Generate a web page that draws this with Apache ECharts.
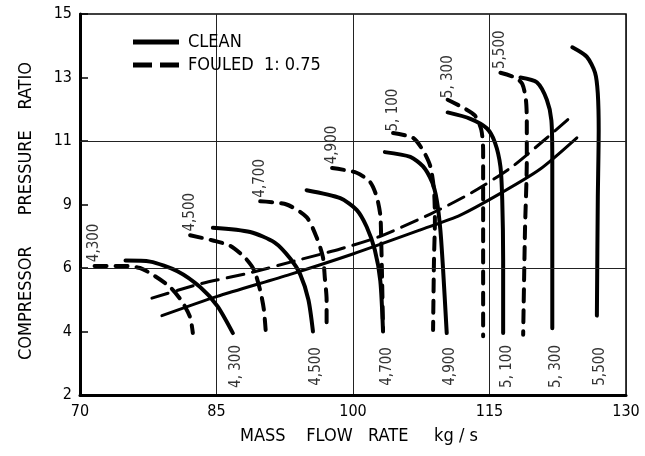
<!DOCTYPE html>
<html>
<head>
<meta charset="utf-8">
<script src="https://cdn.jsdelivr.net/npm/echarts@6/dist/echarts.min.js"></script>
<style>
  html, body { margin: 0; padding: 0; background: #fff; }
  #chart { width: 645px; height: 456px; }
</style>
</head>
<body>
<div id="chart"></div>
<script>
// pressure ratio labels, evenly spaced on the original figure
const yTicks = [2, 4, 6, 9, 11, 13, 15];
const yGridAt = [6, 11];

const cleanNames = ['4, 300', '4,500', '4,700', '4,900', '5, 100', '5, 300', '5,500'];
const fouledNames = ['4,300', '4,500', '4,700', '4,900', '5, 100', '5, 300', '5,500'];

// [mass flow kg/s, pressure ratio]
const clean4300 = [[75.0, 6.35], [77.7, 6.3], [80.7, 5.9], [83.2, 5.4], [85.1, 4.8], [86.8, 3.95]];
const clean4500 = [[84.6, 7.9], [88.7, 7.7], [91.4, 7.2], [93.1, 6.45], [94.2, 5.8], [95.1, 5.0], [95.6, 4.0]];
const clean4700 = [[94.9, 9.45], [98.6, 9.2], [100.4, 8.75], [101.5, 7.95], [102.4, 6.85], [103.0, 5.6], [103.3, 4.0]];
const clean4900 = [[103.5, 10.65], [106.3, 10.5], [107.7, 10.2], [108.7, 9.7], [109.2, 9.15], [109.6, 7.8], [109.9, 5.95], [110.3, 3.95]];
const clean5100 = [[110.4, 11.9], [112.9, 11.7], [114.7, 11.4], [115.6, 10.95], [116.2, 10.2], [116.4, 9.15], [116.5, 6.4], [116.5, 3.95]];
const clean5300 = [[118.4, 13.0], [120.2, 12.85], [121.3, 12.3], [121.8, 11.65], [121.9, 10.4], [121.9, 7.8], [121.9, 4.1]];
const clean5500 = [[124.1, 13.95], [125.7, 13.65], [126.6, 13.15], [126.9, 12.5], [127.0, 11.35], [126.9, 9.15], [126.8, 4.5]];

const fouled4300 = [[71.6, 6.1], [74.7, 6.1], [76.6, 6.0], [78.2, 5.75], [79.9, 5.4], [81.2, 4.95], [82.1, 4.45], [82.4, 3.95]];
const fouled4500 = [[82.1, 7.55], [84.6, 7.3], [86.5, 7.05], [88.1, 6.5], [89.1, 5.95], [89.8, 5.3], [90.2, 4.7], [90.4, 4.05]];
const fouled4700 = [[89.8, 9.1], [92.7, 9.0], [94.9, 8.4], [96.0, 7.45], [96.7, 6.5], [96.9, 5.7], [97.1, 5.0], [97.1, 4.25]];
const fouled4900 = [[97.7, 10.15], [100.4, 10.0], [101.9, 9.7], [102.6, 9.25], [103.0, 8.5], [103.1, 7.3], [103.2, 5.6], [103.3, 4.05]];
const fouled5100 = [[104.4, 11.25], [106.6, 11.1], [107.7, 10.7], [108.5, 10.2], [108.9, 9.45], [109.0, 8.25], [108.9, 6.4], [108.8, 4.05]];
const fouled5300 = [[110.4, 12.3], [112.1, 12.05], [113.4, 11.8], [114.1, 11.35], [114.3, 10.7], [114.3, 9.15], [114.3, 3.85]];
const fouled5500 = [[116.2, 13.15], [117.8, 13.0], [118.6, 12.8], [119.0, 12.3], [119.1, 11.65], [119.1, 10.4], [118.9, 7.8], [118.7, 3.9]];

// surge lines
const cleanSurge = [[79.0, 4.5], [85.0, 5.1], [93.1, 5.8], [99.9, 6.65], [107.4, 7.8], [111.8, 8.5], [116.2, 9.35], [120.5, 10.1], [124.6, 11.1]];
const fouledSurge = [[77.9, 5.05], [83.2, 5.5], [88.7, 5.85], [94.2, 6.4], [98.6, 6.9], [103.0, 7.5], [108.5, 8.55], [112.9, 9.35], [117.3, 10.15], [120.9, 11.0], [124.1, 11.8]];

const cleanLines = [clean4300, clean4500, clean4700, clean4900, clean5100, clean5300, clean5500];
const fouledLines = [fouled4300, fouled4500, fouled4700, fouled4900, fouled5100, fouled5300, fouled5500];

const CLEAN = 'CLEAN';
const FOULED = 'FOULED  1: 0.75';
const FONT = '"DejaVu Sans Condensed", "DejaVu Sans", sans-serif';

// the y axis is drawn by tick index, values are mapped piecewise between the labels
function yPos(pr) {
  for (let i = 0; i < yTicks.length - 2; i++) {
    if (pr <= yTicks[i + 1]) return i + (pr - yTicks[i]) / (yTicks[i + 1] - yTicks[i]);
  }
  const n = yTicks.length - 2;
  return n + (pr - yTicks[n]) / (yTicks[n + 1] - yTicks[n]);
}
const toAxis = pts => pts.map(p => [p[0], yPos(p[1])]);

const dashSpeed = [12, 9];
const dashSurge = [17, 9];

function lineSeries(name, pts, width, type) {
  return {
    name: name,
    type: 'line',
    data: toAxis(pts),
    smooth: 0.25,
    showSymbol: false,
    symbol: 'none',
    silent: true,
    lineStyle: { color: '#000', width: width, type: type, cap: 'round', join: 'round' },
    itemStyle: { color: '#000' },
    emphasis: { disabled: true },
    z: 3
  };
}

let series = [];
cleanLines.forEach(l => series.push(lineSeries(CLEAN, l, 4, 'solid')));
fouledLines.forEach(l => series.push(lineSeries(FOULED, l, 4, dashSpeed)));
series.push(lineSeries(CLEAN, cleanSurge, 3, 'solid'));
series.push(lineSeries(FOULED, fouledSurge, 3, dashSurge));

// horizontal grid lines at 6 and 11 only
series[0].markLine = {
  silent: true,
  symbol: 'none',
  label: { show: false },
  lineStyle: { color: '#222', width: 1, type: 'solid' },
  data: yGridAt.map(v => ({ yAxis: yPos(v) }))
};

const labelStyle = {
  show: true,
  position: 'inside',
  rotate: 90,
  align: 'center',
  verticalAlign: 'middle',
  color: '#000',
  fontSize: 15,
  fontFamily: FONT
};

// clean speed labels below the line ends
series.push({
  type: 'scatter',
  silent: true,
  symbolSize: 1,
  itemStyle: { color: 'rgba(0,0,0,0)' },
  data: cleanLines.map((l, i) => ({
    value: [l[l.length - 1][0] + 0.4, yPos(2.9)],
    label: Object.assign({}, labelStyle, { formatter: cleanNames[i] })
  }))
});
// fouled speed labels above the line starts (offset is in the rotated frame)
series.push({
  type: 'scatter',
  silent: true,
  symbolSize: 1,
  itemStyle: { color: 'rgba(0,0,0,0)' },
  data: fouledLines.map((l, i) => ({
    value: [l[0][0], yPos(l[0][1])],
    label: Object.assign({}, labelStyle, { formatter: fouledNames[i], offset: [23, 0] })
  }))
});

const option = {
  backgroundColor: '#fff',
  animation: false,
  textStyle: { fontFamily: FONT },
  grid: {
    left: 80, right: 19, top: 14, bottom: 61,
    show: true, borderColor: '#000', borderWidth: 1.5
  },
  legend: {
    data: [
      { name: CLEAN, icon: 'path://M0,0h46v5h-46z' },
      { name: FOULED, icon: 'path://M0,0h19v5h-19z M27,0h19v5h-19z' }
    ],
    orient: 'vertical',
    left: 128,
    top: 28,
    itemWidth: 46,
    itemHeight: 5,
    itemGap: 5,
    selectedMode: false,
    itemStyle: { color: '#000' },
    textStyle: { fontSize: 18, color: '#000', fontFamily: FONT, padding: [0, 0, 0, 4] }
  },
  xAxis: {
    type: 'value',
    min: 70, max: 130, interval: 15,
    name: 'MASS    FLOW   RATE     kg / s',
    nameLocation: 'middle',
    nameGap: 32,
    nameTextStyle: { fontSize: 18, color: '#000', fontFamily: FONT, padding: [0, 0, 0, 12] },
    axisLine: { lineStyle: { color: '#000', width: 3 } },
    axisTick: { show: false },
    axisLabel: { fontSize: 16, color: '#000', margin: 9, fontFamily: FONT },
    splitLine: { show: true, lineStyle: { color: '#222', width: 1 } }
  },
  yAxis: {
    type: 'value',
    min: 0, max: yTicks.length - 1, interval: 1,
    name: 'COMPRESSOR      PRESSURE    RATIO',
    nameLocation: 'middle',
    nameGap: 45,
    nameRotate: 90,
    nameTextStyle: { fontSize: 18, color: '#000', fontFamily: FONT, padding: [0, 13, 0, 0] },
    axisLine: { lineStyle: { color: '#000', width: 3 } },
    axisTick: { show: true, inside: true, length: 8, lineStyle: { color: '#000', width: 1.5 } },
    axisLabel: { fontSize: 16, color: '#000', margin: 8, fontFamily: FONT, formatter: v => String(yTicks[v]) },
    splitLine: { show: false }
  },
  series: series
};

const chart = echarts.init(document.getElementById('chart'));
chart.setOption(option);
</script>
</body>
</html>
